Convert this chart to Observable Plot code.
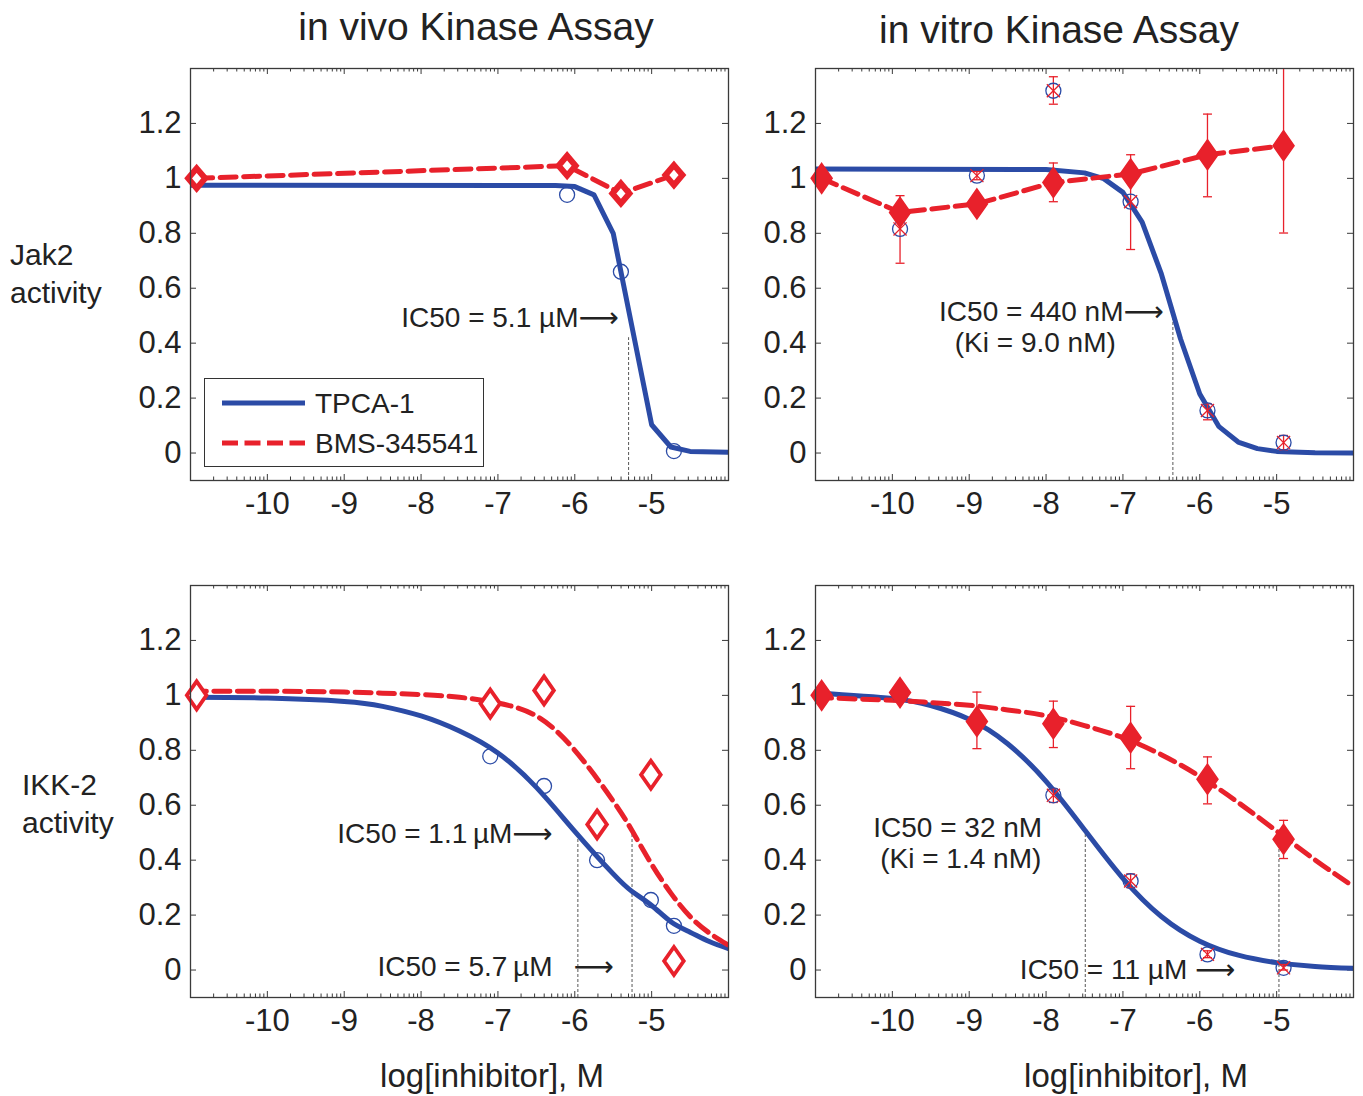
<!DOCTYPE html>
<html><head><meta charset="utf-8">
<script src="https://cdn.jsdelivr.net/npm/d3@7"></script>
<script src="https://cdn.jsdelivr.net/npm/@observablehq/plot@0.6"></script>
<style>
body{margin:0;background:#fff;}
#wrap{position:relative;width:1363px;height:1096px;font-family:"Liberation Sans",Arial,sans-serif;color:#222;overflow:hidden;}
.t{position:absolute;white-space:nowrap;line-height:1;}
.p{position:absolute;}
.leg{position:absolute;left:204px;top:378px;width:280px;height:89px;box-sizing:border-box;border:1.3px solid #333;background:#fff;font-size:28px;}
</style></head><body><div id="wrap"></div>
<script>
// ---------- tick labels ----------
const xTicks = [-10, -9, -8, -7, -6, -5];
const xTickLabels = ["-10", "-9", "-8", "-7", "-6", "-5"];
const yTicks = [0, 0.2, 0.4, 0.6, 0.8, 1, 1.2];
const yTickLabels = ["0", "0.2", "0.4", "0.6", "0.8", "1", "1.2"];
const seriesNames = ["TPCA-1", "BMS-345541"];
const columnTitles = ["in vivo Kinase Assay", "in vitro Kinase Assay"];
const rowTitles = [["Jak2", "activity"], ["IKK-2", "activity"]];
const xTitle = "log[inhibitor], M";
const ARROW = "\u27F6";

// ---------- Panel A: in vivo, Jak2 ----------
const aTpcaX = [-6.10, -5.40, -4.71];
const aTpcaY = [0.94, 0.66, 0.007];
const aBmsX = [-10.92, -6.10, -5.40, -4.71];
const aBmsY = [1.0, 1.046, 0.945, 1.012];
const aFitX = [-11, -6.25, -6.0, -5.75, -5.5, -5.0, -4.75, -4.5, -4];
const aFitTpca = [0.975, 0.974, 0.97, 0.94, 0.80, 0.103, 0.022, 0.006, 0.003];
const aIcX = [-5.30];
const aIcTop = [0.42];
const aNoteX = [-5.43];
const aNoteY = [0.49];
const aNoteText = ["IC50 = 5.1 µM" + ARROW];

// ---------- Panel B: in vitro, Jak2 ----------
const bTpcaX = [-9.90, -8.90, -7.905, -6.90, -5.90, -4.91];
const bTpcaY = [0.816, 1.010, 1.319, 0.915, 0.155, 0.038];
const bTpcaLo = [0.691, 0.995, 1.270, 0.741, 0.121, 0.012];
const bTpcaHi = [0.937, 1.025, 1.370, 1.086, 0.179, 0.064];
const bBmsX = [-10.92, -9.90, -8.90, -7.905, -6.90, -5.90, -4.91];
const bBmsY = [1.0, 0.876, 0.907, 0.985, 1.016, 1.086, 1.119];
const bBmsLo = [1.0, 0.85, 0.89, 0.915, 0.99, 0.933, 0.801];
const bBmsHi = [1.0, 0.90, 0.925, 1.056, 1.045, 1.234, 1.437];
const bFitX = [-11, -8, -7.5, -7.25, -7, -6.75, -6.5, -6.25, -6, -5.75, -5.5, -5.25, -5, -4.5, -4];
const bFitTpca = [1.034, 1.032, 1.020, 0.999, 0.949, 0.841, 0.652, 0.415, 0.215, 0.096, 0.040, 0.016, 0.006, 0.001, 0.0];
const bIcX = [-6.35];
const bIcTop = [0.50];
const bNoteEndX = [-6.47];
const bNoteEndY = [0.515];
const bNoteEndText = ["IC50 = 440 nM" + ARROW];
const bNoteMidX = [-8.14];
const bNoteMidY = [0.40];
const bNoteMidText = ["(Ki = 9.0 nM)"];

// ---------- Panel C: in vivo, IKK-2 ----------
const cTpcaX = [-7.10, -6.40, -5.71, -5.01, -4.71];
const cTpcaY = [0.778, 0.670, 0.40, 0.255, 0.161];
const cBmsX = [-10.92, -7.10, -6.40, -5.71, -5.01, -4.71];
const cBmsY = [1.0, 0.970, 1.018, 0.530, 0.711, 0.033];
const cFitX = [-11, -10, -9, -8.5, -8, -7.5, -7, -6.5, -6, -5.5, -5.25, -5, -4.75, -4.5, -4.25, -4];
const cFitTpca = [0.993, 0.99, 0.978, 0.96, 0.925, 0.87, 0.79, 0.665, 0.505, 0.35, 0.285, 0.235, 0.176, 0.138, 0.104, 0.078];
const cFitBms = [1.015, 1.015, 1.012, 1.008, 1.003, 0.993, 0.972, 0.925, 0.80, 0.615, 0.505, 0.385, 0.28, 0.195, 0.135, 0.09];
const cIcX = [-5.96, -5.255];
const cIcTop = [0.49, 0.503];
const cNoteEndX = [-6.29, -6.29];
const cNoteEndY = [0.495, 0.011];
const cNoteEndText = ["IC50 = 1.1\u2009µM" + ARROW, "IC50 = 5.7\u2009µM"];
const cNoteMidX = [-5.757];
const cNoteMidY = [0.011];
const cNoteMidText = [ARROW];

// ---------- Panel D: in vitro, IKK-2 ----------
const dTpcaX = [-9.90, -8.90, -7.905, -6.90, -5.90, -4.91];
const dTpcaY = [1.0, 0.905, 0.636, 0.324, 0.057, 0.008];
const dTpcaLo = [0.99, 0.89, 0.61, 0.30, 0.045, 0.0];
const dTpcaHi = [1.02, 0.92, 0.66, 0.35, 0.07, 0.02];
const dBmsX = [-10.92, -9.90, -8.90, -7.905, -6.90, -5.90, -4.91];
const dBmsY = [1.0, 1.01, 0.905, 0.897, 0.846, 0.695, 0.476];
const dBmsLo = [1.0, 0.99, 0.806, 0.81, 0.733, 0.605, 0.406];
const dBmsHi = [1.0, 1.03, 1.012, 0.979, 0.96, 0.776, 0.545];
const dFitX = [-11, -10, -9.5, -9, -8.5, -8, -7.5, -7, -6.5, -6, -5.5, -5, -4.5, -4];
const dFitTpca = [1.009, 0.989, 0.963, 0.913, 0.824, 0.687, 0.511, 0.334, 0.195, 0.105, 0.054, 0.027, 0.013, 0.006];
const dFitBms = [0.992, 0.982, 0.974, 0.964, 0.947, 0.926, 0.89, 0.846, 0.784, 0.705, 0.61, 0.506, 0.401, 0.304];
const dIcX = [-7.49, -4.97];
const dIcTop = [0.497, 0.479];
const dNoteEndX = [-5.54];
const dNoteEndY = [0.0];
const dNoteEndText = ["IC50 = 11 µM " + ARROW];
const dNoteMidX = [-9.15, -9.11];
const dNoteMidY = [0.516, 0.404];
const dNoteMidText = ["IC50 = 32 nM", "(Ki = 1.4 nM)"];

// ---------- styling ----------
const BLUE = "#2b4ba6", RED = "#e8212b", FRAME = "#3a3a3a", TXT = "#222";
const FONT = "'Liberation Sans', Arial, sans-serif";
const NOTEFONT = "'Liberation Sans', 'DejaVu Sans', Arial, sans-serif";
const W = 618, H = 472, ML = 70, MR = 10, MT = 10, MB = 50;
const XD = [-11, -4], YD = [-0.1, 1.4];
const ux = (XD[1] - XD[0]) / (W - ML - MR);
const uy = (YD[1] - YD[0]) / (H - MT - MB);

const diamondSym = {draw(ctx, size) {
  const h = Math.sqrt(size / Math.PI), w = h * 0.7;
  ctx.moveTo(0, -h); ctx.lineTo(w, 0); ctx.lineTo(0, h); ctx.lineTo(-w, 0); ctx.closePath();
}};
const diamondWide = {draw(ctx, size) {
  const h = Math.sqrt(size / Math.PI), w = h * 0.85;
  ctx.moveTo(0, -h); ctx.lineTo(w, 0); ctx.lineTo(0, h); ctx.lineTo(-w, 0); ctx.closePath();
}};
const capSym = {draw(ctx, size) {
  const r = Math.sqrt(size / Math.PI);
  ctx.moveTo(-r, 0); ctx.lineTo(r, 0);
}};

function tickMarks() {
  const minor = [];
  for (let n = -11; n < -4; n++) for (let k = 2; k <= 9; k++) minor.push(n + Math.log10(k));
  const maj = 6, mn = 3.5, s = {stroke: FRAME, strokeWidth: 1};
  return [
    Plot.ruleX(xTicks, {x: d => d, y1: YD[0], y2: YD[0] + maj * uy, ...s}),
    Plot.ruleX(xTicks, {x: d => d, y1: YD[1], y2: YD[1] - maj * uy, ...s}),
    Plot.ruleX(minor, {x: d => d, y1: YD[0], y2: YD[0] + mn * uy, ...s}),
    Plot.ruleX(minor, {x: d => d, y1: YD[1], y2: YD[1] - mn * uy, ...s}),
    Plot.ruleY(yTicks, {y: d => d, x1: XD[0], x2: XD[0] + maj * ux, ...s}),
    Plot.ruleY(yTicks, {y: d => d, x1: XD[1], x2: XD[1] - maj * ux, ...s})
  ];
}

function rows(xs, lo, hi) {
  return xs.map((x, i) => ({x, lo: lo[i], hi: hi[i]}));
}

function panel(cfg) {
  const marks = [...tickMarks()];
  const curve = cfg.smooth ? "natural" : "linear";
  marks.push(Plot.ruleX(cfg.icX, {x: cfg.icX, y1: YD[0], y2: cfg.icTop, stroke: "#444", strokeWidth: 0.9, strokeDasharray: "3,2"}));
  if (cfg.fitTpca) marks.push(Plot.line(cfg.fitX, {x: cfg.fitX, y: cfg.fitTpca, curve, stroke: BLUE, strokeWidth: 5, clip: true}));
  if (cfg.fitBms) marks.push(Plot.line(cfg.fitX, {x: cfg.fitX, y: cfg.fitBms, curve, stroke: RED, strokeWidth: 5, strokeDasharray: "16,7.5", clip: true}));
  else marks.push(Plot.line(cfg.bmsX, {x: cfg.bmsX, y: cfg.bmsY, stroke: RED, strokeWidth: 5, strokeDasharray: "16,7.5", clip: true}));
  const errs = [];
  if (cfg.tpcaLo) errs.push(...rows(cfg.tpcaX, cfg.tpcaLo, cfg.tpcaHi));
  if (cfg.bmsLo) errs.push(...rows(cfg.bmsX, cfg.bmsLo, cfg.bmsHi));
  if (errs.length) {
    marks.push(Plot.ruleX(errs, {x: "x", y1: "lo", y2: "hi", stroke: RED, strokeWidth: 1.3, clip: true}));
    marks.push(Plot.dot(errs, {x: "x", y: "lo", symbol: capSym, r: 4.5, stroke: RED, strokeWidth: 1.3, fill: "none", clip: true}));
    marks.push(Plot.dot(errs, {x: "x", y: "hi", symbol: capSym, r: 4.5, stroke: RED, strokeWidth: 1.3, fill: "none", clip: true}));
  }
  marks.push(Plot.dot(cfg.tpcaX, {x: cfg.tpcaX, y: cfg.tpcaY, r: 7.5, stroke: BLUE, strokeWidth: 1.3, fill: "none"}));
  if (cfg.cross) marks.push(Plot.dot(cfg.tpcaX, {x: cfg.tpcaX, y: cfg.tpcaY, symbol: "times", r: 6, stroke: RED, strokeWidth: 1.3}));
  marks.push(Plot.dot(cfg.bmsX, {x: cfg.bmsX, y: cfg.bmsY, ...cfg.diamond}));
  if (cfg.endX) marks.push(Plot.text(cfg.endText, {x: cfg.endX, y: cfg.endY, text: cfg.endText, textAnchor: "end", fontSize: 28, fontFamily: NOTEFONT, fill: TXT}));
  if (cfg.midX) marks.push(Plot.text(cfg.midText, {x: cfg.midX, y: cfg.midY, text: cfg.midText, textAnchor: "middle", fontSize: 28, fontFamily: NOTEFONT, fill: TXT}));
  marks.push(Plot.frame({stroke: FRAME, strokeWidth: 1.3}));
  marks.push(Plot.axisX({ticks: xTicks, tickFormat: d => xTickLabels[xTicks.indexOf(d)], tickSize: 0, tickPadding: 11, label: null, fill: TXT}));
  marks.push(Plot.axisY({ticks: yTicks, tickFormat: d => yTickLabels[yTicks.indexOf(d)], tickSize: 0, tickPadding: 9, label: null, fill: TXT}));
  return Plot.plot({
    width: W, height: H, marginLeft: ML, marginRight: MR, marginTop: MT, marginBottom: MB,
    x: {domain: XD}, y: {domain: YD},
    style: {fontFamily: FONT, fontSize: "31px", background: "transparent", overflow: "visible", color: TXT},
    marks
  });
}

const diamondOpenThick = {symbol: diamondWide, r: 10, fill: "#fff", stroke: RED, strokeWidth: 6};
const diamondOpen = {symbol: diamondSym, r: 14, fill: "#fff", stroke: RED, strokeWidth: 3.8};
const diamondFilled = {symbol: diamondSym, r: 15, fill: RED, stroke: RED, strokeWidth: 1.5};

const panels = [
  {left: 120, top: 58, cfg: {tpcaX: aTpcaX, tpcaY: aTpcaY, bmsX: aBmsX, bmsY: aBmsY, fitX: aFitX, fitTpca: aFitTpca,
    icX: aIcX, icTop: aIcTop, endX: aNoteX, endY: aNoteY, endText: aNoteText, diamond: diamondOpenThick}},
  {left: 745, top: 58, cfg: {tpcaX: bTpcaX, tpcaY: bTpcaY, tpcaLo: bTpcaLo, tpcaHi: bTpcaHi, bmsX: bBmsX, bmsY: bBmsY, bmsLo: bBmsLo, bmsHi: bBmsHi,
    fitX: bFitX, fitTpca: bFitTpca, icX: bIcX, icTop: bIcTop, endX: bNoteEndX, endY: bNoteEndY, endText: bNoteEndText,
    midX: bNoteMidX, midY: bNoteMidY, midText: bNoteMidText, cross: true, diamond: diamondFilled}},
  {left: 120, top: 575, cfg: {tpcaX: cTpcaX, tpcaY: cTpcaY, bmsX: cBmsX, bmsY: cBmsY, fitX: cFitX, fitTpca: cFitTpca, fitBms: cFitBms, smooth: true,
    icX: cIcX, icTop: cIcTop, endX: cNoteEndX, endY: cNoteEndY, endText: cNoteEndText, midX: cNoteMidX, midY: cNoteMidY, midText: cNoteMidText, diamond: diamondOpen}},
  {left: 745, top: 575, cfg: {tpcaX: dTpcaX, tpcaY: dTpcaY, tpcaLo: dTpcaLo, tpcaHi: dTpcaHi, bmsX: dBmsX, bmsY: dBmsY, bmsLo: dBmsLo, bmsHi: dBmsHi,
    fitX: dFitX, fitTpca: dFitTpca, fitBms: dFitBms, smooth: true, icX: dIcX, icTop: dIcTop, endX: dNoteEndX, endY: dNoteEndY, endText: dNoteEndText,
    midX: dNoteMidX, midY: dNoteMidY, midText: dNoteMidText, cross: true, diamond: diamondFilled}}
];

const wrap = document.getElementById("wrap");
for (const p of panels) {
  const div = document.createElement("div");
  div.className = "p";
  div.style.left = p.left + "px";
  div.style.top = p.top + "px";
  div.appendChild(panel(p.cfg));
  wrap.appendChild(div);
}

function addText(txt, left, top, size, center) {
  const d = document.createElement("div");
  d.className = "t";
  d.textContent = txt;
  d.style.left = left + "px";
  d.style.top = top + "px";
  d.style.fontSize = size + "px";
  if (center) d.style.transform = "translateX(-50%)";
  wrap.appendChild(d);
  return d;
}
addText(columnTitles[0], 476, 7, 39, true);
addText(columnTitles[1], 1059, 10, 39, true);
addText(xTitle, 492, 1059, 33, true);
addText(xTitle, 1136, 1059, 33, true);
function addBlock(lines, left, top) {
  const d = document.createElement("div");
  d.className = "t";
  d.style.left = left + "px";
  d.style.top = top + "px";
  d.style.fontSize = "30px";
  d.style.lineHeight = "38px";
  d.innerHTML = lines.join("<br>");
  wrap.appendChild(d);
}
addBlock(rowTitles[0], 10, 236);
addBlock(rowTitles[1], 22, 766);

// legend
const leg = document.createElement("div");
leg.className = "leg";
leg.innerHTML = `<svg width="278" height="87" style="position:absolute;left:0;top:0;font-family:${FONT}">
  <line x1="17" y1="24" x2="100" y2="24" stroke="${BLUE}" stroke-width="5"/>
  <line x1="17" y1="64" x2="100" y2="64" stroke="${RED}" stroke-width="5" stroke-dasharray="16,6.5"/>
  <text x="110" y="34" font-size="28" fill="${TXT}">${seriesNames[0]}</text>
  <text x="110" y="74" font-size="28" fill="${TXT}">${seriesNames[1]}</text>
</svg>`;
wrap.appendChild(leg);
</script></body></html>
